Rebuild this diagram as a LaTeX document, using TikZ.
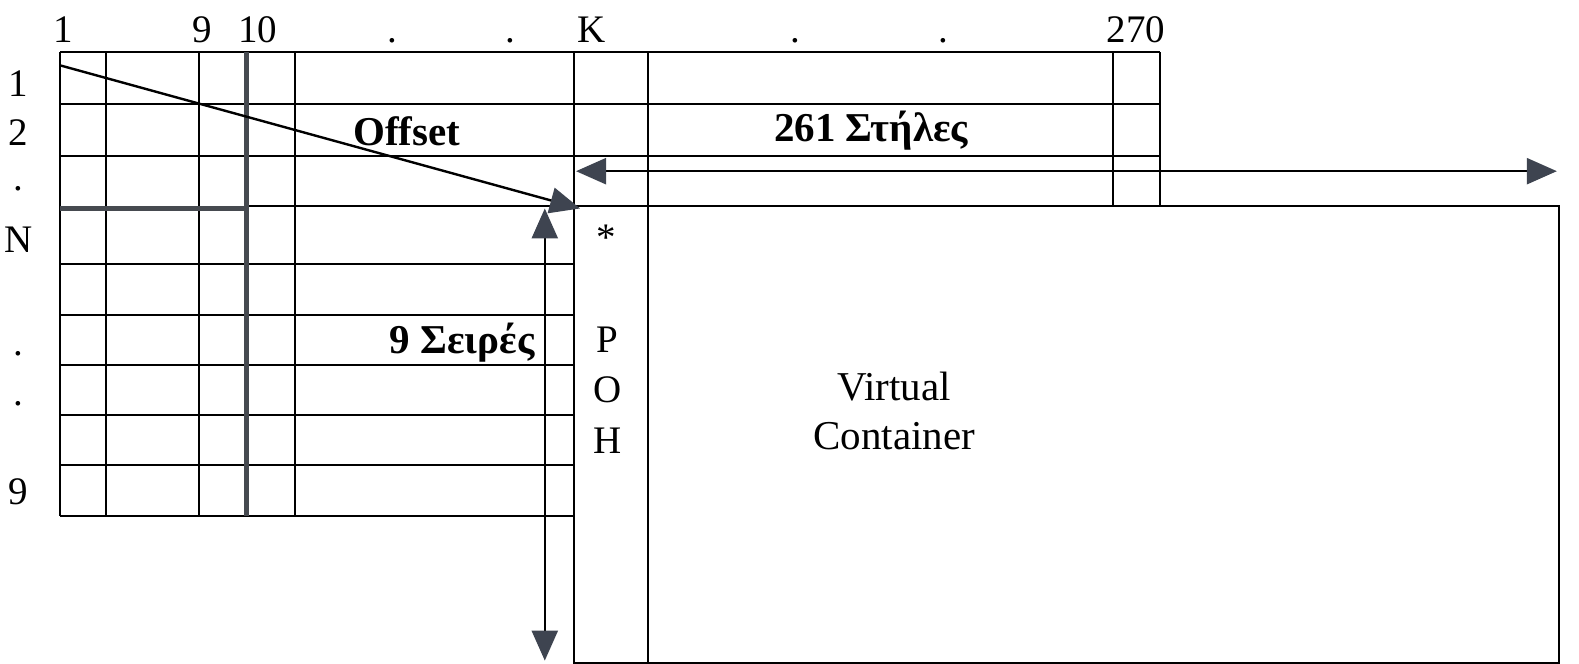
\documentclass[tikz,border=0pt]{standalone}
\usepackage{fontspec}
\setmainfont{Liberation Serif}
\definecolor{tipGray}{RGB}{62,68,80}
\definecolor{barGray}{RGB}{70,74,80}
\usepackage{tikz}
\usetikzlibrary{arrows.meta,positioning,calc}

\tikzset{
  gridline/.style={black,line width=1pt},
  barline/.style={barGray,line width=2.6pt},
  dimarrow/.style={black,line width=1.2pt,
    {Triangle[length=15pt,width=13pt,color=tipGray]}-{Triangle[length=15pt,width=13pt,color=tipGray]}},
  lbl/.style={font=\fontsize{19.5}{22}\selectfont,inner sep=0pt,anchor=base},
  boldlbl/.style={font=\fontsize{20.5}{24}\selectfont\bfseries,inner sep=0pt}
}

\begin{document}
\begin{tikzpicture}[x=0.5035pt,y=-0.5035pt]
  \useasboundingbox (0,0) rectangle (1568,659);
  % grid of the frame
  \foreach \y in {52,103,155} \draw[gridline] (60,\y) -- (1152,\y);
  \foreach \y in {262,313,362,412,462,512} \draw[gridline] (60,\y) -- (570,\y);
  \draw[gridline] (245,205) -- (570,205);
  \foreach \x in {60,105,198,293} \draw[gridline] (\x,52) -- (\x,512);
  \foreach \x in {1105,1152} \draw[gridline] (\x,52) -- (\x,205);
  \draw[gridline] (570,52) -- (570,205);
  \draw[gridline] (643,52) -- (643,205);
  % virtual container
  \draw[gridline] (570,205) rectangle (1548,658);
  \draw[gridline] (643,205) -- (643,658);
  % thick section lines
  \draw[barline] (245,52) -- (245,512);
  \draw[barline] (60,207) -- (245,207);

  % column labels
  \node[lbl] (c1) at (63,42) {1};
  \node[lbl] (c9) at (201,42) {9};
  \node[lbl] (c10) at (256,42) {10};
  \node[lbl] (cd1) at (390,42) {.};
  \node[lbl] (cd2) at (507,42) {.};
  \node[lbl] (cK) at (587,42) {K};
  \node[lbl] (cd3) at (790,42) {.};
  \node[lbl] (cd4) at (937,42) {.};
  \node[lbl] (c270) at (1128,42) {270};
  % row labels
  \node[lbl] (r1) at (18,96) {1};
  \node[lbl] (r2) at (18,144) {2};
  \node[lbl] (rd1) at (18,189) {.};
  \node[lbl] (rN) at (18,251) {N};
  \node[lbl] (rd2) at (18,353) {.};
  \node[lbl] (rd3) at (18,403) {.};
  \node[lbl] (r9) at (18,501) {9};

  % POH column
  \node[lbl] (star) at (602,249) {*};
  \node[lbl] (pP) at (603,350) {P};
  \node[lbl] (pO) at (603,400) {O};
  \node[lbl] (pH) at (603,450) {H};
  \node[font=\fontsize{20.5}{24.5}\selectfont,align=center] (vc) at (888,408) {Virtual\\Container};

  % offset pointer
  \coordinate (offStart) at (60,65);
  \coordinate (vcCorner) at (576,207);
  \draw[black,line width=1.2pt,-{Triangle[length=15pt,width=13pt,color=tipGray]}] (offStart) -- (vcCorner);
  \node[boldlbl] (offset) at (404,130) {Offset};

  % columns span
  \coordinate (colL) at (572,170);
  \coordinate (colR) at (1546,170);
  \draw[dimarrow] (colL) -- (colR);
  \node[boldlbl] (cols) at (865,130) {261 Στήλες};

  % rows span
  \coordinate (rowT) at (541,207);
  \coordinate (rowB) at (541,656);
  \draw[dimarrow] (rowT) -- (rowB);
  \node[boldlbl,anchor=east] (rows) at (531,340) {9 Σειρές};
\end{tikzpicture}
\end{document}
